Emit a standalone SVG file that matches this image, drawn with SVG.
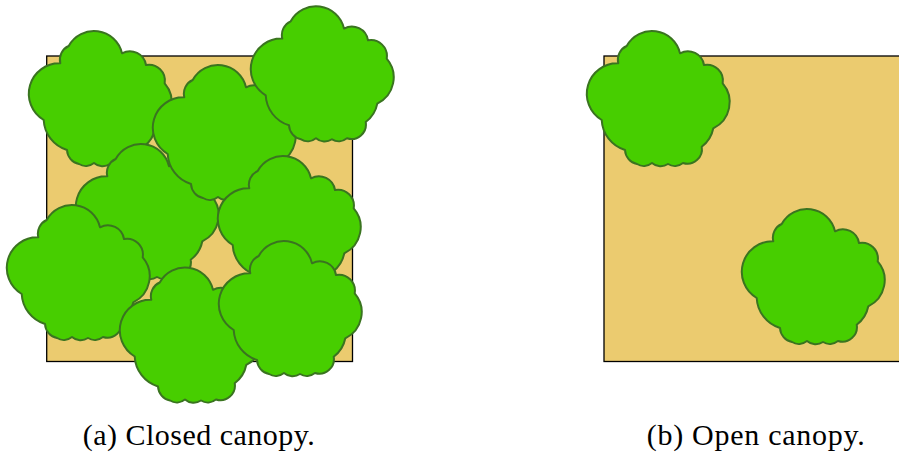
<svg xmlns="http://www.w3.org/2000/svg" xmlns:xlink="http://www.w3.org/1999/xlink" width="899" height="452" viewBox="0 0 899 452">
<style>
.ground{fill:#EBCB6F;stroke:#000;stroke-width:1.3}
.crown{fill:#47CE00;stroke:#3A7420;stroke-width:2;stroke-linejoin:round}
.cap{font-family:"Liberation Serif","Times New Roman",serif;font-size:30px;fill:#000}
</style>
<defs>
<path id="tree" class="crown" d="M626.7,46 A28.8,28.8 0 0 1 680,53.3 A16.3,16.3 0 0 1 704,65 A16,16 0 0 1 722.7,83.3 A29,29 0 0 1 713.3,128.3 A30,30 0 0 1 701.7,146.7 A14.5,14.5 0 0 1 683,163 A13,13 0 0 1 668,164 A13,13 0 0 1 652,163 A13,13 0 0 1 637,164 A15,15 0 0 1 625,150 A33,33 0 0 1 601.7,120 A30.5,30.5 0 0 1 618.3,63.3 A15,15 0 0 1 626.7,46 Z"/>
</defs>
<g id="closed-canopy">
<rect id="closed-ground" class="ground" x="46.7" y="56" width="305.8" height="305.5"/>
<g id="closed-tree-1"><use xlink:href="#tree" href="#tree" transform="translate(-558,0)"/></g>
<g id="closed-tree-2"><use xlink:href="#tree" href="#tree" transform="translate(-511,113)"/></g>
<g id="closed-tree-3"><use xlink:href="#tree" href="#tree" transform="translate(-434,34)"/></g>
<g id="closed-tree-4"><use xlink:href="#tree" href="#tree" transform="translate(-336,-24.7)"/></g>
<g id="closed-tree-5"><use xlink:href="#tree" href="#tree" transform="translate(-369,125)"/></g>
<g id="closed-tree-6"><use xlink:href="#tree" href="#tree" transform="translate(-580,174)"/></g>
<g id="closed-tree-7"><use xlink:href="#tree" href="#tree" transform="translate(-467,236.5)"/></g>
<g id="closed-tree-8"><use xlink:href="#tree" href="#tree" transform="translate(-368,210)"/></g>
</g>
<g id="open-canopy">
<rect id="open-ground" class="ground" x="604" y="56" width="305.8" height="305.5"/>
<g id="open-tree-1"><use xlink:href="#tree" href="#tree"/></g>
<g id="open-tree-2"><use xlink:href="#tree" href="#tree" transform="translate(155,178)"/></g>
</g>
<g id="connectors"></g>
<g id="captions">
<text class="cap" x="82.7" y="445" textLength="232" lengthAdjust="spacing">(a) Closed canopy.</text>
<text class="cap" x="646.7" y="445" textLength="218" lengthAdjust="spacing">(b) Open canopy.</text>
</g>
</svg>
